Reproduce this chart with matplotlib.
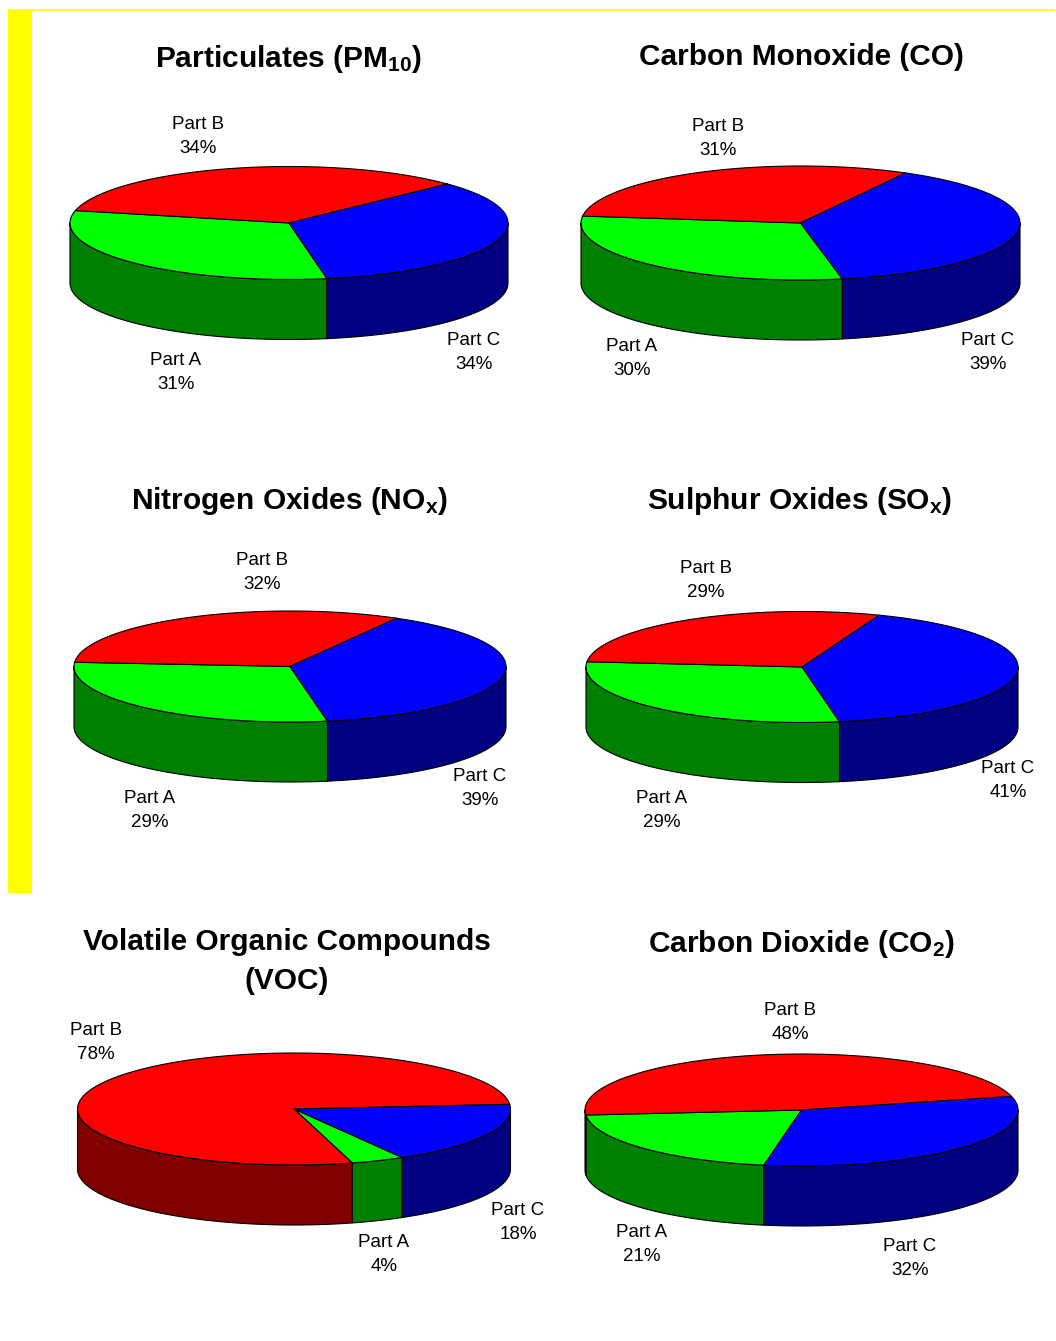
import numpy as np
import matplotlib
matplotlib.use("Agg")
import matplotlib.pyplot as plt
from matplotlib.patches import Polygon, Rectangle

plt.rcParams["font.family"] = ["Liberation Sans", "DejaVu Sans"]
plt.rcParams["mathtext.fontset"] = "custom"
plt.rcParams["mathtext.rm"] = "Liberation Sans"
plt.rcParams["mathtext.bf"] = "Liberation Sans:bold"
plt.rcParams["mathtext.it"] = "Liberation Sans:italic"

# ---- data -------------------------------------------------------------
parts = ["Part A", "Part B", "Part C"]
titles = [
    r"Particulates (PM$_{\mathbf{10}}$)",
    "Carbon Monoxide (CO)",
    r"Nitrogen Oxides (NO$_{\mathbf{x}}$)",
    r"Sulphur Oxides (SO$_{\mathbf{x}}$)",
    "Volatile Organic Compounds\n(VOC)",
    r"Carbon Dioxide (CO$_{\mathbf{2}}$)",
]
pm10 = [31, 34, 34]
co = [30, 31, 39]
nox = [29, 32, 39]
sox = [29, 29, 41]
voc = [4, 78, 18]
co2 = [21, 48, 32]
series = [pm10, co, nox, sox, voc, co2]

# ---- styling ----------------------------------------------------------
top_colors = ["#00FF00", "#FF0000", "#0000FF"]
side_colors = ["#008000", "#800000", "#000080"]

# pie centre (x, y), half-width, half-height, wall depth, start angle (deg)
pie_layout = [
    (289, 223, 219, 56.5, 60, 280),
    (800.5, 223, 219.5, 57, 60, 281),
    (290, 666.5, 216, 55.5, 60, 280),
    (802, 667, 216, 55.5, 60, 280),
    (294, 1109, 216.5, 56, 60, 300),
    (801.5, 1110, 216.5, 56, 60, 260),
]
# first-line baseline of each title
title_pos = [(289, 67), (801, 65), (289, 509), (800, 509), (287, 950), (801, 952)]
# label anchors (first-line baseline) for Part A, Part B, Part C
label_pos = [
    [(176, 365), (198, 129), (474, 345)],
    [(632, 351), (718, 131), (988, 345)],
    [(150, 803), (262, 565), (480, 781)],
    [(662, 803), (706, 573), (1008, 773)],
    [(384, 1247), (96, 1035), (518, 1215)],
    [(642, 1237), (790, 1015), (910, 1251)],
]

W, H = 1056, 1341
fig = plt.figure(figsize=(W / 100, H / 100), dpi=100)
ax = fig.add_axes([0, 0, 1, 1])
ax.set_xlim(0, W)
ax.set_ylim(H, 0)
ax.axis("off")

# yellow frame accents
ax.add_patch(Rectangle((8, 10), 24, 883, facecolor="#FFFF00", edgecolor="none"))
ax.plot([8, 1055], [9.5, 9.5], color="#FFFF00", lw=1.2, solid_capstyle="butt")


def arc(cx, cy, a, b, t0, t1, n=200):
    t = np.radians(np.linspace(t0, t1, n))
    return cx + a * np.cos(t), cy - b * np.sin(t)


def draw_pie(values, cx, cy, a, b, depth, start):
    v = np.asarray(values, dtype=float)
    frac = v / v.sum()
    bounds = start - 360.0 * np.concatenate([[0.0], np.cumsum(frac)])
    lw = 0.8
    # front walls
    for i in range(len(v)):
        hi, lo = bounds[i], bounds[i + 1]
        for k in range(-2, 3):
            s = max(lo, 180 + 360 * k)
            e = min(hi, 360 + 360 * k)
            if e - s <= 0:
                continue
            x, y = arc(cx, cy, a, b, s, e)
            pts = np.column_stack([np.r_[x, x[::-1]], np.r_[y, y[::-1] + depth]])
            ax.add_patch(Polygon(pts, closed=True, facecolor=side_colors[i],
                                 edgecolor="black", lw=lw, zorder=1,
                                 joinstyle="round"))
    # top faces
    for i in range(len(v)):
        hi, lo = bounds[i], bounds[i + 1]
        x, y = arc(cx, cy, a, b, hi, lo)
        pts = np.column_stack([np.r_[cx, x], np.r_[cy, y]])
        ax.add_patch(Polygon(pts, closed=True, facecolor=top_colors[i],
                             edgecolor="black", lw=lw, zorder=2,
                             joinstyle="round"))


for vals, title, lay, tpos, lpos in zip(series, titles, pie_layout,
                                         title_pos, label_pos):
    cx, cy, a, b, depth, start = lay
    draw_pie(vals, cx, cy, a, b, depth, start)
    for j, line in enumerate(title.split("\n")):
        ax.text(tpos[0], tpos[1] + 39 * j, line,
                ha="center", va="baseline", fontsize=21.5, fontweight="bold",
                color="black")
    for name, val, (lx, ly) in zip(parts, vals, lpos):
        ax.text(lx, ly, name, ha="center", va="baseline", fontsize=13.5,
                color="black")
        ax.text(lx, ly + 24, f"{val}%", ha="center", va="baseline",
                fontsize=13.5, color="black")

fig.savefig("out.png", dpi=100, facecolor="white")
